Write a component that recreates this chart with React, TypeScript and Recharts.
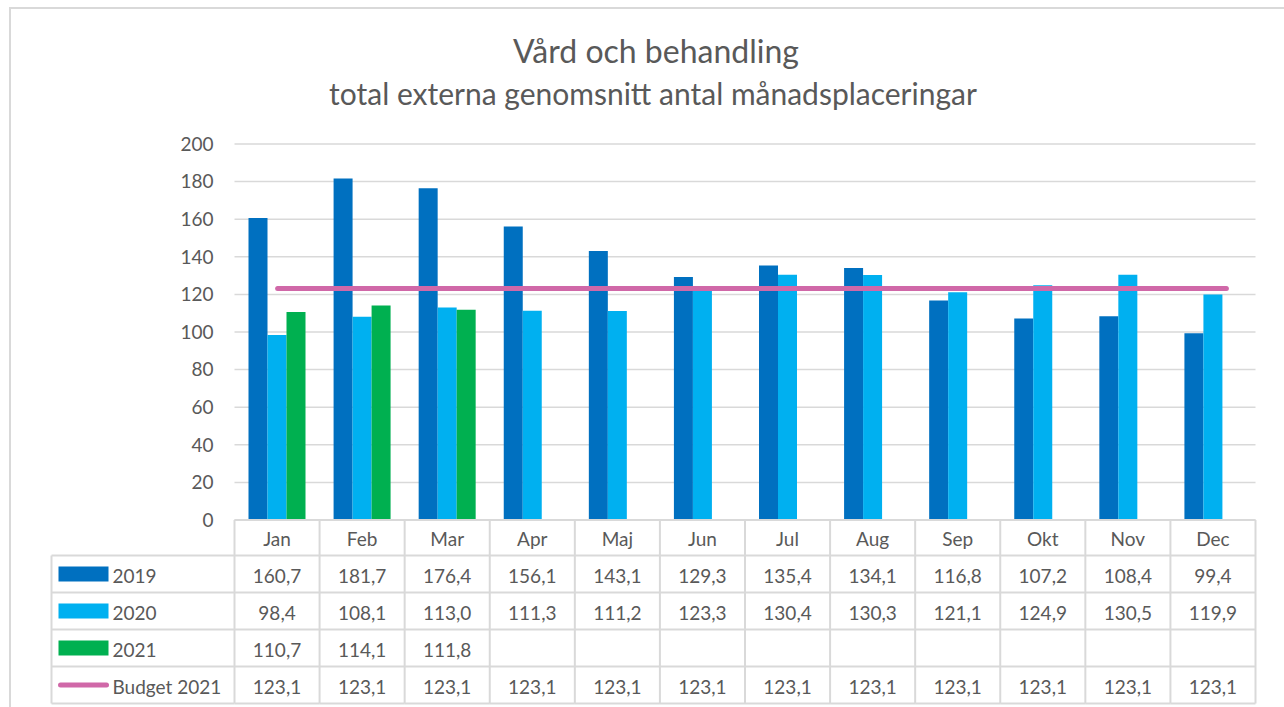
import React from 'react';
import { ComposedChart, Bar, Line, XAxis, YAxis, CartesianGrid } from 'recharts';

const MONTHS = ['Jan', 'Feb', 'Mar', 'Apr', 'Maj', 'Jun', 'Jul', 'Aug', 'Sep', 'Okt', 'Nov', 'Dec'];
const S2019 = [160.7, 181.7, 176.4, 156.1, 143.1, 129.3, 135.4, 134.1, 116.8, 107.2, 108.4, 99.4];
const S2020 = [98.4, 108.1, 113.0, 111.3, 111.2, 123.3, 130.4, 130.3, 121.1, 124.9, 130.5, 119.9];
const S2021 = [110.7, 114.1, 111.8, null, null, null, null, null, null, null, null, null];
const BUDGET = [123.1, 123.1, 123.1, 123.1, 123.1, 123.1, 123.1, 123.1, 123.1, 123.1, 123.1, 123.1];
const Y_TICKS = [0, 20, 40, 60, 80, 100, 120, 140, 160, 180, 200];

const SERIES = [
  { key: 'y2019', label: '2019', color: '#0070C0', values: S2019, kind: 'bar' },
  { key: 'y2020', label: '2020', color: '#00B0F0', values: S2020, kind: 'bar' },
  { key: 'y2021', label: '2021', color: '#00B050', values: S2021, kind: 'bar' },
  { key: 'budget', label: 'Budget 2021', color: '#D068A8', values: BUDGET, kind: 'line' },
];

const data = MONTHS.map((m, i) => ({
  month: m,
  y2019: S2019[i],
  y2020: S2020[i],
  y2021: S2021[i],
  budget: BUDGET[i],
}));

const FONT = 'Lato, "Open Sans", sans-serif';
const TEXT = '#595959';
const GRID = '#D9D9D9';
const HEADER_H = 35.5;
const ROW_H = 37;
const LEG_W = 183;

const fmt = (v: number | null) => (v == null ? '' : v.toFixed(1).replace('.', ','));

function TableTick(props: any) {
  const { x, y, payload } = props;
  let i = props.index;
  if (i == null) i = payload && payload.index;
  if (i == null) i = MONTHS.indexOf(payload.value);
  const half = payload && payload.offset ? payload.offset : 42.5;
  const left = x - half;
  const right = x + half;
  const bottom = y + HEADER_H + ROW_H * SERIES.length;
  const els: any[] = [];
  els.push(
    <text key="h" x={x} y={y + HEADER_H / 2 + 1} textAnchor="middle" dominantBaseline="central"
      fontFamily={FONT} fontSize={19} fill={TEXT}>{payload.value}</text>
  );
  els.push(<line key="vl" x1={left} x2={left} y1={y} y2={bottom} stroke={GRID} strokeWidth={2} />);
  if (i === MONTHS.length - 1) {
    els.push(<line key="vr" x1={right} x2={right} y1={y} y2={bottom} stroke={GRID} strokeWidth={2} />);
  }
  for (let k = 0; k <= SERIES.length; k++) {
    const yy = y + HEADER_H + k * ROW_H;
    els.push(<line key={'hl' + k} x1={left} x2={right} y1={yy} y2={yy} stroke={GRID} strokeWidth={2} />);
  }
  SERIES.forEach((s, k) => {
    const cy = y + HEADER_H + k * ROW_H + ROW_H / 2 + 1;
    els.push(
      <text key={'v' + k} x={x} y={cy} textAnchor="middle" dominantBaseline="central"
        fontFamily={FONT} fontSize={19} fill={TEXT}>{fmt(s.values[i])}</text>
    );
  });
  if (i === 0) {
    const lx = left - LEG_W;
    els.push(<line key="lvl" x1={lx} x2={lx} y1={y + HEADER_H} y2={bottom} stroke={GRID} strokeWidth={2} />);
    for (let k = 0; k <= SERIES.length; k++) {
      const yy = y + HEADER_H + k * ROW_H;
      els.push(<line key={'lhl' + k} x1={lx} x2={left} y1={yy} y2={yy} stroke={GRID} strokeWidth={2} />);
    }
    SERIES.forEach((s, k) => {
      const cy = y + HEADER_H + k * ROW_H + ROW_H / 2;
      if (s.kind === 'bar') {
        els.push(<rect key={'sw' + k} x={lx + 7} y={cy - 7.5} width={50} height={15} fill={s.color} />);
      } else {
        els.push(<line key={'sw' + k} x1={lx + 9} x2={lx + 55} y1={cy} y2={cy} stroke={s.color} strokeWidth={5} strokeLinecap="round" />);
      }
      els.push(
        <text key={'lt' + k} x={lx + 61} y={cy + 1} textAnchor="start" dominantBaseline="central"
          fontFamily={FONT} fontSize={19} fill={TEXT}>{s.label}</text>
      );
    });
  }
  return <g>{els}</g>;
}

export default function App() {
  return (
    <div style={{ position: 'absolute', left: 0, top: 0, width: 1284, height: 707, background: '#fff', overflow: 'hidden' }}>
      <div style={{ position: 'absolute', left: 9, top: 7, width: 1290, height: 720, borderTop: `2px solid ${GRID}`, borderLeft: `2px solid ${GRID}` }} />
      <div style={{ position: 'absolute', left: 0, top: 31, width: 1312, textAlign: 'center', fontFamily: FONT, fontSize: 32, color: TEXT, lineHeight: '40px' }}>
        Vård och behandling
      </div>
      <div style={{ position: 'absolute', left: 0, top: 73, width: 1306, textAlign: 'center', fontFamily: FONT, fontSize: 30, color: TEXT, lineHeight: '40px' }}>
        total externa genomsnitt antal månadsplaceringar
      </div>
      <div style={{ position: 'absolute', left: 0, top: 0 }}>
        <ComposedChart width={1284} height={707} data={data} barGap={0} barSize={19}
          margin={{ top: 144, right: 28.5, bottom: 0, left: 174.5 }}>
          <CartesianGrid vertical={false} stroke={GRID} strokeWidth={1.5} />
          <XAxis dataKey="month" height={187} interval={0} axisLine={{ stroke: GRID, strokeWidth: 2 }}
            tickLine={false} tickSize={0} tickMargin={0} tick={<TableTick />} />
          <XAxis dataKey="month" xAxisId="line" hide padding={{ left: 0, right: -14 }} />
          <YAxis width={60} domain={[0, 200]} ticks={Y_TICKS} interval={0} axisLine={false} tickLine={false}
            tickMargin={15} tick={{ fontFamily: FONT, fontSize: 19, fill: TEXT }} />
          <Bar dataKey="y2019" fill="#0070C0" isAnimationActive={false} />
          <Bar dataKey="y2020" fill="#00B0F0" isAnimationActive={false} />
          <Bar dataKey="y2021" fill="#00B050" isAnimationActive={false} />
          <Line dataKey="budget" xAxisId="line" stroke="#D068A8" strokeWidth={5} dot={false} activeDot={false}
            strokeLinecap="round" isAnimationActive={false} />
        </ComposedChart>
      </div>
    </div>
  );
}
